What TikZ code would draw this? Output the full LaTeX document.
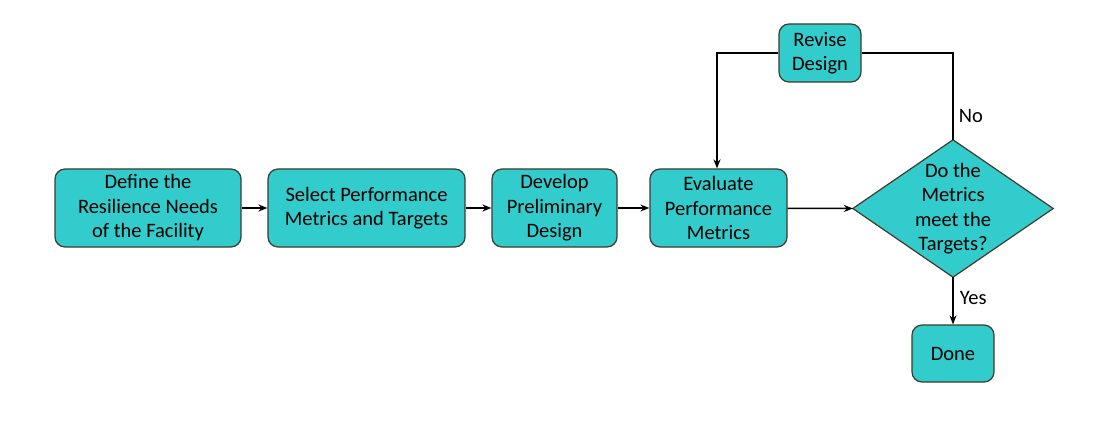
\documentclass[tikz,border=0pt]{standalone}
\usepackage{fontspec}
\setmainfont{Carlito}
\usetikzlibrary{arrows.meta,backgrounds}
\definecolor{boxfill}{HTML}{33CCCC}
\definecolor{boxline}{HTML}{3F3A2A}
\tikzset{
  txt/.style={font=\fontsize{20.5}{24.5}\selectfont},
  stepbox/.style={draw=boxline, fill=boxfill, line width=1.2pt, rounded corners=10pt,
    align=center, inner sep=0pt, txt},
  conn/.style={line width=1.5pt, -{Stealth[length=9pt,width=7pt]}},
  plain/.style={line width=1.5pt},
  lbl/.style={txt, inner sep=0pt}
}
\begin{document}
\begin{tikzpicture}[x=1pt,y=-1pt]
\useasboundingbox (0,0) rectangle (1100,422);
\node[stepbox, minimum width=186pt, minimum height=78pt] (define) at (148,208) {Define the\\Resilience Needs\\of the Facility};
\node[stepbox, minimum width=197pt, minimum height=78pt] (select) at (366.5,208) {Select Performance\\Metrics and Targets};
\node[stepbox, minimum width=125pt, minimum height=78pt] (develop) at (554.5,208) {Develop\\Preliminary\\Design};
\node[stepbox, minimum width=137pt, minimum height=78pt] (evaluate) at (718.5,208) {Evaluate\\Performance\\Metrics};
\node[stepbox, minimum width=82pt, minimum height=58pt] (revise) at (820,53) {Revise\\Design};
\node[stepbox, minimum width=82pt, minimum height=57pt] (done) at (953,353.5) {Done};
\node[align=center, inner sep=0pt, minimum width=200pt, minimum height=137pt, txt] (decide) at (953,208.5) {Do the\\Metrics\\meet the\\Targets?};
\begin{scope}[on background layer]
\path[draw=boxline, fill=boxfill, line width=1.2pt] (decide.north) -- (decide.east) -- (decide.south) -- (decide.west) -- cycle;
\end{scope}
\coordinate (topR) at (953,53);
\coordinate (topL) at (717,53);
\draw[conn] (define) -- (select);
\draw[conn] (select) -- (develop);
\draw[conn] (develop) -- (evaluate);
\draw[conn] (evaluate) -- (decide.west);
\draw[conn] (decide.south) -- node[lbl, right=6pt, pos=0.45] {Yes} (done);
\draw[plain] (decide.north) -- node[lbl, right=5pt, pos=0.28] {No} (topR) -- (revise.east);
\draw[conn] (revise.west) -- (topL) -- (evaluate.north -| topL);
\end{tikzpicture}
\end{document}
